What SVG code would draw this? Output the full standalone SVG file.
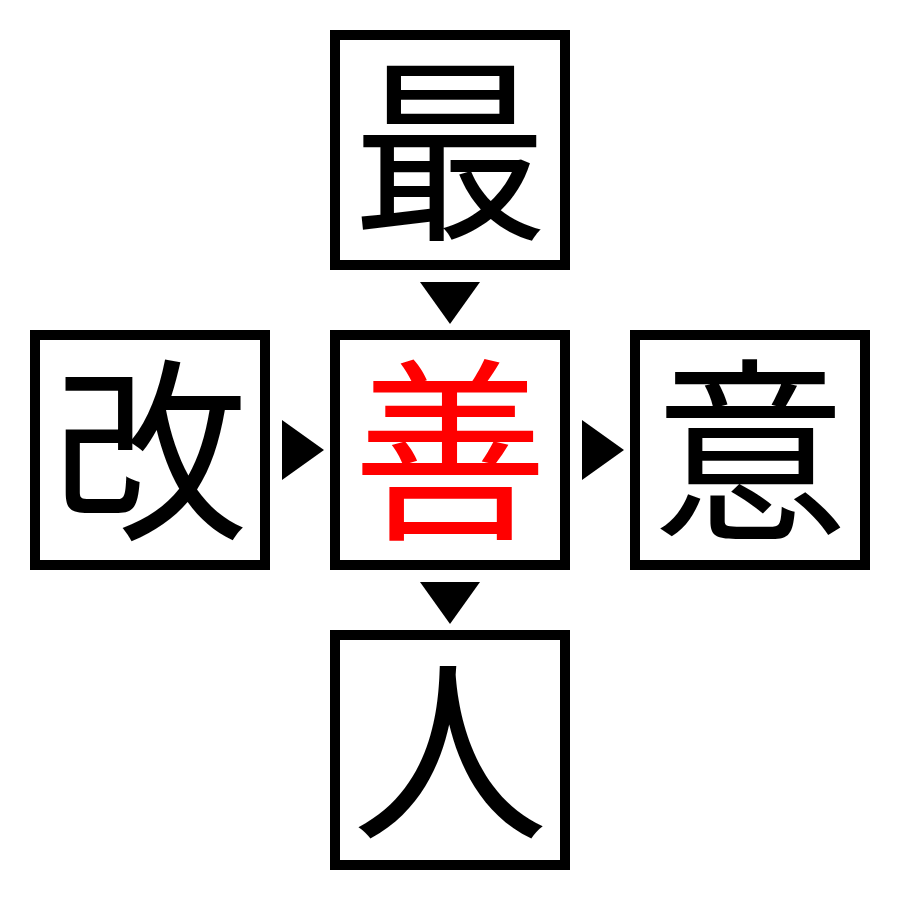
<svg xmlns="http://www.w3.org/2000/svg" width="900" height="900" viewBox="0 0 900 900">
<style>
.box{fill:#fff;stroke:#000;stroke-width:10}
.ch{font-family:"Noto Sans CJK JP","Noto Sans CJK SC",sans-serif;font-size:196px;text-anchor:middle;fill:#000}
.red{fill:#ff0000}
.arr{fill:#000}
</style>
<rect width="900" height="900" fill="#fff"/>
<g id="connectors">
<polygon class="arr" points="420,282 480,282 450,324"/>
<polygon class="arr" points="420,582 480,582 450,624"/>
<polygon class="arr" points="282,420 282,480 324,450"/>
<polygon class="arr" points="582,420 582,480 624,450"/>
</g>
<g id="node-top"><rect class="box" x="335" y="35" width="230" height="230"/><text class="ch" x="450" y="224">最</text></g>
<g id="node-left"><rect class="box" x="35" y="335" width="230" height="230"/><text class="ch" x="150" y="524">改</text></g>
<g id="node-center"><rect class="box" x="335" y="335" width="230" height="230"/><text class="ch red" x="450" y="524">善</text></g>
<g id="node-right"><rect class="box" x="635" y="335" width="230" height="230"/><text class="ch" x="750" y="524">意</text></g>
<g id="node-bottom"><rect class="box" x="335" y="635" width="230" height="230"/><text class="ch" x="450" y="824">人</text></g>
</svg>
